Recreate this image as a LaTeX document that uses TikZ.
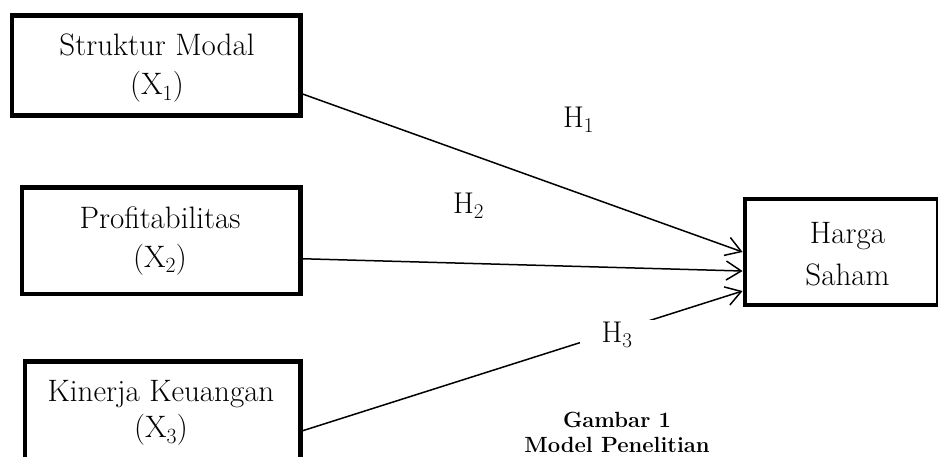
\documentclass[tikz,border=0pt]{standalone}
\usepackage{fontspec}
\usetikzlibrary{arrows.meta}
\begin{document}
\begin{tikzpicture}[x=1pt,y=-1pt,
  box/.style={draw, line width=4.2pt, inner sep=0pt},
  txt/.style={align=center, inner sep=0pt, font=\fontsize{31}{39}\selectfont},
  hyp/.style={inner sep=0pt, font=\fontsize{30}{34}\selectfont},
  captxt/.style={inner sep=0pt, anchor=base, font=\fontsize{22}{26}\selectfont\bfseries},
  arr/.style={line width=1.5pt, -{Straight Barb[length=15pt,width=19pt,line width=1.5pt]}}]
\useasboundingbox (0,0) rectangle (938,456);
\clip (0,0) rectangle (938,456);
% boxes
\node[box, minimum width=288.5pt, minimum height=100pt] (b1) at (156.25,65.5) {};
\node[box, minimum width=278.5pt, minimum height=106.5pt] (b2) at (161.25,240.75) {};
\node[box, minimum width=275.5pt, minimum height=138.5pt] (b3) at (162.75,430.75) {};
\node[box, minimum width=193.3pt, minimum height=106pt] (y) at (841.35,252) {};
% box texts
\node[txt] (t1) at (157,68.5) {Struktur Modal\\(X\textsubscript{1})};
\node[txt] (t2) at (160,240.5) {Profitabilitas\\(X\textsubscript{2})};
\node[txt, font=\fontsize{31}{36}\selectfont] (t3) at (161,413) {Kinerja Keuangan\\(X\textsubscript{3})};
\node[txt, font=\fontsize{31}{42}\selectfont] (ty) at (847.5,254) {Harga\\Saham};
% arrows
\draw[arr] ([yshift=-28.5pt]b1.east) -- (y.west);
\draw[arr] ([yshift=-18pt]b2.east) -- ([yshift=-19pt]y.west);
\draw[arr] (b3.east) -- ([yshift=-39pt]y.west);
% hypothesis labels
\node[hyp, anchor=base west] (h1) at (563,127) {H\textsubscript{1}};
\node[hyp, anchor=base west] (h2) at (453,213) {H\textsubscript{2}};
\node[hyp, fill=white, minimum width=74pt, minimum height=31pt] (h3) at (617,335) {H\textsubscript{3}};
% caption
\node[captxt] (c1) at (617,427) {Gambar 1};
\node[captxt] (c2) at (617,452) {Model Penelitian};
\end{tikzpicture}
\end{document}
